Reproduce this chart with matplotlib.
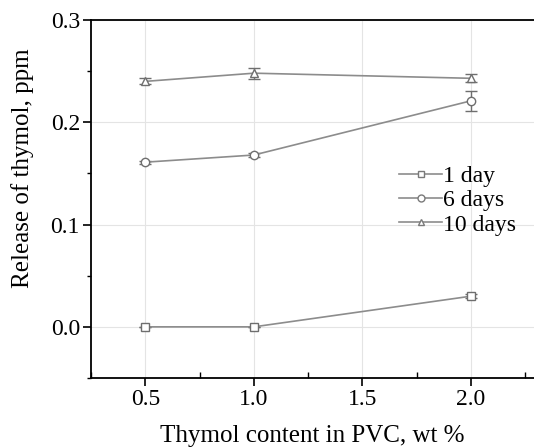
import numpy as np
import matplotlib.pyplot as plt
from matplotlib import ticker
from matplotlib.lines import Line2D

plt.rcParams['font.family'] = ['Liberation Serif', 'DejaVu Serif']

thymol = [0.5, 1.0, 2.0]

day1 = [0.0, 0.0, 0.030]
day1_err = [0.0, 0.0, 0.002]
day6 = [0.161, 0.168, 0.221]
day6_err = [0.0015, 0.0015, 0.0095]
day10 = [0.240, 0.248, 0.243]
day10_err = [0.003, 0.0055, 0.004]

labels = ['1 day', '6 days', '10 days']
markers = ['s', 'o', '^']

fig = plt.figure(figsize=(5.34, 4.47), dpi=100)
ax = fig.add_axes([91/534, 69/447, 443/534, 358/447])

gray = '#8c8c8c'
handles = []
for vals, errs, lab, m in zip([day1, day6, day10], [day1_err, day6_err, day10_err], labels, markers):
    ax.errorbar(thymol, vals, yerr=errs, color=gray, lw=1.2, marker=m,
                ms=6, mfc='white', mec='#6e6e6e', mew=1.0,
                ecolor='#6e6e6e', elinewidth=1.0, capsize=4, capthick=1.0)
    handles.append(Line2D([], [], color=gray, lw=1.2, marker=m, ms=5,
                          mfc='white', mec='#7a7a7a', mew=1.0, label=lab))

ax.set_xlim(0.25, 2.29)
ax.set_ylim(-0.05, 0.3)
ax.xaxis.set_major_locator(ticker.MultipleLocator(0.5))
ax.xaxis.set_minor_locator(ticker.MultipleLocator(0.25))
ax.yaxis.set_major_locator(ticker.MultipleLocator(0.1))
ax.yaxis.set_minor_locator(ticker.MultipleLocator(0.05))
ax.xaxis.set_major_formatter(ticker.FormatStrFormatter('%.1f'))
ax.yaxis.set_major_formatter(ticker.FormatStrFormatter('%.1f'))

ax.grid(True, which='major', color='#e4e4e4', lw=0.8)
ax.set_axisbelow(True)
ax.spines['right'].set_visible(False)
for s in ['left', 'bottom', 'top']:
    ax.spines[s].set_linewidth(1.3)

ax.tick_params(which='major', direction='out', length=6, width=1.2, labelsize=17, pad=2)
ax.tick_params(axis='x', which='minor', direction='in', length=4, width=1.0)
ax.tick_params(axis='y', which='minor', direction='out', length=3, width=1.0)

ax.set_xlabel('Thymol content in PVC, wt %', fontsize=18, labelpad=11)
ax.set_ylabel('Release of thymol, ppm', fontsize=18)
ax.yaxis.set_label_coords(-0.128, 0.587)

ax.legend(handles=handles, loc='upper left', bbox_to_anchor=(0.675, 0.62), frameon=False,
          fontsize=17, handlelength=1.8, handletextpad=0.05,
          labelspacing=0.12, borderaxespad=0)

fig.savefig('out.png', dpi=100)
